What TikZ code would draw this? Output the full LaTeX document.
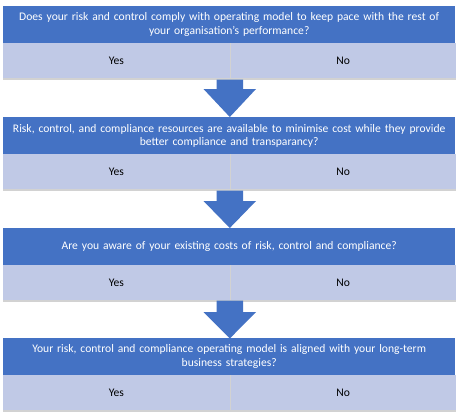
\documentclass[tikz,border=0pt]{standalone}
\usepackage{fontspec}
\setmainfont{Carlito}
\definecolor{hdrblue}{RGB}{68,114,196}
\definecolor{rowblue}{RGB}{192,201,230}
\definecolor{arrowblue}{RGB}{68,114,196}
\begin{document}
\begin{tikzpicture}[x=1pt,y=-1pt,
  hdr/.style={fill=hdrblue,draw=none,text=white,font=\fontsize{11.6}{13.5}\selectfont,align=center,inner sep=0pt},
  cell/.style={fill=rowblue,draw=none,font=\fontsize{11.6}{13.5}\selectfont,inner sep=0pt},
  downarrow/.style={fill=arrowblue,draw=none}]
\useasboundingbox (0,0) rectangle (460,415);
\fill[white] (0,0) rectangle (460,415);

% one question block: #1 top y, #2 name, #3 question text
\newcommand{\qblock}[3]{%
  \fill[gray!35] (3,#1+37) rectangle (455.5,#1+73.5);
  \node[hdr,minimum width=452pt,minimum height=37pt,anchor=north west,text width=446pt] (#2h) at (3,#1) {#3};
  \node[cell,minimum width=226.5pt,minimum height=35pt,anchor=north west] (#2y) at (3,#1+37) {Yes};
  \node[cell,minimum width=225pt,minimum height=35pt,anchor=north west] (#2n) at (230.5,#1+37) {No};
}
% block arrow between two blocks: #1 shaft top, #2 head start, #3 tip
\newcommand{\downarr}[3]{%
  \fill[arrowblue] (216.5,#1) -- (243,#1) -- (243,#2) -- (256,#2) -- (229.8,#3) -- (203.5,#2) -- (216.5,#2) -- cycle;
}

\qblock{6}{q1}{Does your risk and control comply with operating model to keep pace with the rest of\\your organisation's performance?}
\qblock{117}{q2}{Risk, control, and compliance resources are available to minimise cost while they provide\\better compliance and transparancy?}
\qblock{228}{q3}{Are you aware of your existing costs of risk, control and compliance?}
\qblock{338}{q4}{Your risk, control and compliance operating model is aligned with your long-term\\business strategies?}

\downarr{79.5}{89}{117}
\downarr{190.5}{201}{228}
\downarr{300.5}{312}{338.5}
\end{tikzpicture}
\end{document}
